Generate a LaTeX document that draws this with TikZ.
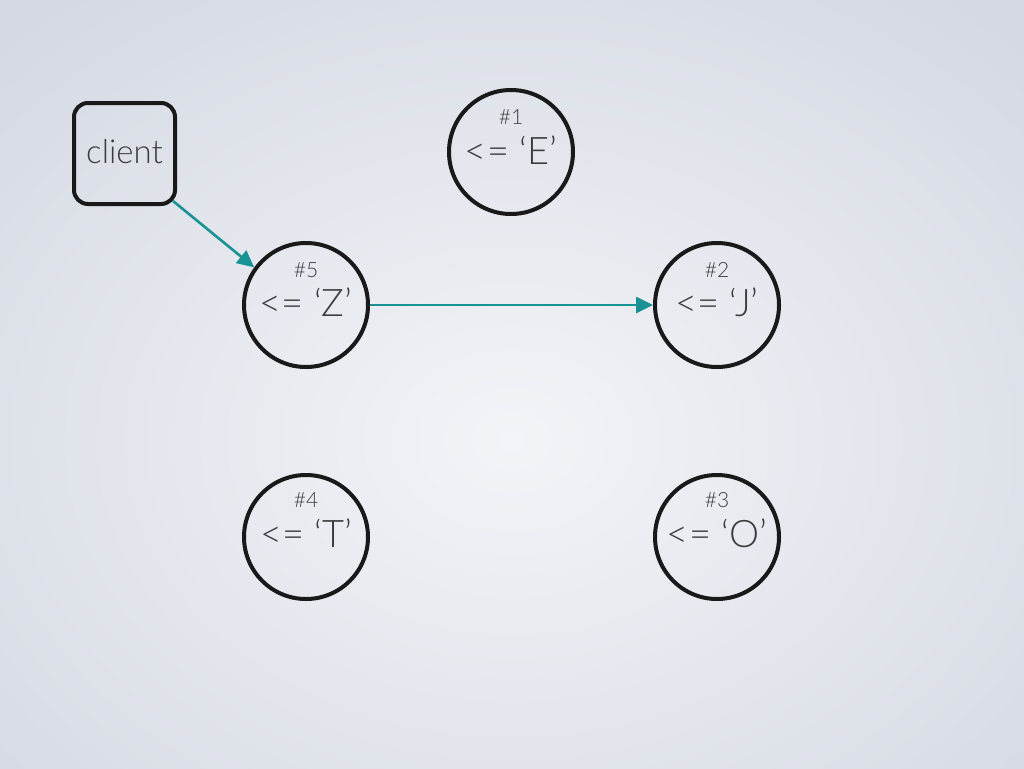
\documentclass[tikz,border=0pt]{standalone}
\usepackage{fontspec}
\setmainfont{Lato}[UprightFont=* Light]
\usetikzlibrary{arrows.meta}
\definecolor{bgin}{RGB}{243,244,248}
\definecolor{bgout}{RGB}{212,217,226}
\definecolor{ink}{RGB}{60,60,62}
\definecolor{teal}{RGB}{24,146,148}
\tikzset{
  server/.style={circle, draw=black!90, line width=4pt, minimum size=124pt, inner sep=0pt},
  clientbox/.style={rectangle, rounded corners=14pt, draw=black!90, line width=4pt, minimum size=101pt, inner sep=0pt},
  tag/.style={text=ink, font=\fontsize{21}{23}\selectfont},
  bound/.style={text=ink, font=\fontsize{38}{40}\selectfont},
  link/.style={draw=teal, line width=2.6pt, -{Triangle[length=17pt,width=16pt]}},
}
\begin{document}
\begin{tikzpicture}[x=1pt,y=-1pt]
  \useasboundingbox (0,0) rectangle (1024,768);
  \shade[inner color=bgin, outer color=bgout] (-220,-120) rectangle (1244,1000);

  % client box
  \node[clientbox] (client) at (124.5,153.5) {};
  \node[text=ink, font=\fontsize{33}{35}\selectfont] (clientlabel) at (124.5,152) {client};

  % servers
  \node[server] (s1) at (511,152) {};
  \node[server] (s5) at (306,305) {};
  \node[server] (s2) at (717,305) {};
  \node[server] (s4) at (306,537) {};
  \node[server] (s3) at (717,537) {};

  % labels
  \node[tag] (t1) at (511,117) {\#1};
  \node[bound] (b1) at (511,150) {<= ‘E’};
  \node[tag] (t5) at (306,270) {\#5};
  \node[bound] (b5) at (306,302) {<= ‘Z’};
  \node[tag] (t2) at (717,270) {\#2};
  \node[bound] (b2) at (717,302) {<= ‘J’};
  \node[tag] (t4) at (306,500) {\#4};
  \node[bound] (b4) at (306,533) {<= ‘T’};
  \node[tag] (t3) at (717,500) {\#3};
  \node[bound] (b3) at (717,533) {<= ‘O’};

  % requests
  \draw[link] ([shift={(-4,-5)}]client.south east) -- (s5.144);
  \draw[link] (s5.east) -- (s2.west);
\end{tikzpicture}
\end{document}
